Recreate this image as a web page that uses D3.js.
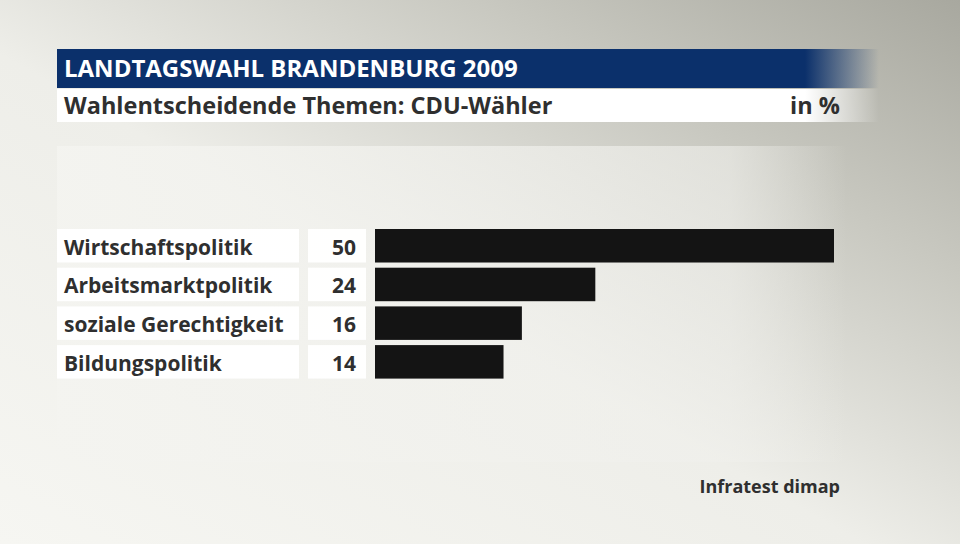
<!DOCTYPE html>
<html><head><meta charset="utf-8">
<script src="https://cdn.jsdelivr.net/npm/d3@7"></script>
<style>body{margin:0;padding:0;overflow:hidden}svg{display:block}</style>
</head><body>
<script>
const categories = ["Wirtschaftspolitik","Arbeitsmarktpolitik","soziale Gerechtigkeit","Bildungspolitik"];
const values = [50,24,16,14];
const title = "LANDTAGSWAHL BRANDENBURG 2009";
const subtitle = "Wahlentscheidende Themen: CDU-Wähler";
const unit = "in %";
const source = "Infratest dimap";

const W=960,H=544;
const svg=d3.select("body").append("svg").attr("width",W).attr("height",H);
const defs=svg.append("defs");
const bg=defs.append("linearGradient").attr("id","bg").attr("x1","0").attr("y1","1").attr("x2","1").attr("y2","0");
bg.append("stop").attr("offset","0").attr("stop-color","#f6f6f2");
bg.append("stop").attr("offset","0.45").attr("stop-color","#eeeee9");
bg.append("stop").attr("offset","0.75").attr("stop-color","#c8c8c0");
bg.append("stop").attr("offset","1").attr("stop-color","#a8a89f");
svg.append("rect").attr("width",W).attr("height",H).attr("fill","url(#bg)");
const pan=defs.append("linearGradient").attr("id","pan").attr("x1","0").attr("x2","1");
pan.append("stop").attr("offset","0").attr("stop-color","#f4f4f0").attr("stop-opacity",0.9);
pan.append("stop").attr("offset","0.85").attr("stop-color","#f0f0ec").attr("stop-opacity",0.6);
pan.append("stop").attr("offset","1").attr("stop-color","#f0f0ec").attr("stop-opacity",0);
svg.append("rect").attr("x",57).attr("y",146).attr("width",790).attr("height",316).attr("fill","url(#pan)");

const tg=defs.append("linearGradient").attr("id","tg").attr("x1","0").attr("x2","1");
tg.append("stop").attr("offset","0").attr("stop-color","#0b306b");
tg.append("stop").attr("offset","0.91").attr("stop-color","#0b306b");
tg.append("stop").attr("offset","1").attr("stop-color","#0b306b").attr("stop-opacity",0);
svg.append("rect").attr("x",57).attr("y",49).attr("width",822).attr("height",39).attr("fill","url(#tg)");
const sg=defs.append("linearGradient").attr("id","sg").attr("x1","0").attr("x2","1");
sg.append("stop").attr("offset","0").attr("stop-color","#fff");
sg.append("stop").attr("offset","0.91").attr("stop-color","#fff");
sg.append("stop").attr("offset","1").attr("stop-color","#fff").attr("stop-opacity",0);
svg.append("rect").attr("x",57).attr("y",89).attr("width",822).attr("height",33).attr("fill","url(#sg)");

const font="'Open Sans', 'Noto Sans', sans-serif";
svg.append("text").attr("x",64).attr("y",77).attr("fill","#fff").attr("font-family",font)
  .attr("font-weight",700).attr("font-size",24).text(title);
svg.append("text").attr("x",64).attr("y",113.5).attr("fill","#2f2f2f").attr("font-family",font)
  .attr("font-weight",700).attr("font-size",23.5).text(subtitle);
svg.append("text").attr("x",840).attr("y",113.5).attr("text-anchor","end").attr("fill","#2f2f2f").attr("font-family",font)
  .attr("font-weight",700).attr("font-size",23.5).text(unit);

const y=d3.scaleBand().domain(categories).range([229,378.6]).paddingInner(0.134).paddingOuter(0);
const x=d3.scaleLinear().domain([0,50]).range([375,834]);

const rows=svg.selectAll("g.row").data(categories).join("g").attr("class","row");
rows.append("rect").attr("x",57).attr("y",d=>y(d)).attr("width",242).attr("height",y.bandwidth()).attr("fill","#fff").attr("fill-opacity",0.95);
rows.append("rect").attr("x",308).attr("y",d=>y(d)).attr("width",58).attr("height",y.bandwidth()).attr("fill","#fff").attr("fill-opacity",0.95);
rows.append("text").attr("x",64).attr("y",d=>y(d)+y.bandwidth()/2+9).attr("fill","#2f2f2f").attr("font-family",font)
  .attr("font-weight",700).attr("font-size",21).text(d=>d);
rows.append("text").attr("x",356).attr("y",d=>y(d)+y.bandwidth()/2+9).attr("text-anchor","end").attr("fill","#2f2f2f").attr("font-family",font)
  .attr("font-weight",700).attr("font-size",21).text((d,i)=>values[i]);
rows.append("rect").attr("x",x(0)).attr("y",d=>y(d)).attr("width",(d,i)=>x(values[i])-x(0)).attr("height",y.bandwidth()).attr("fill","#141414");

svg.append("text").attr("x",840).attr("y",493).attr("text-anchor","end").attr("fill","#2f2f2f").attr("font-family",font)
  .attr("font-weight",700).attr("font-size",18).text(source);
</script>
</body></html>
